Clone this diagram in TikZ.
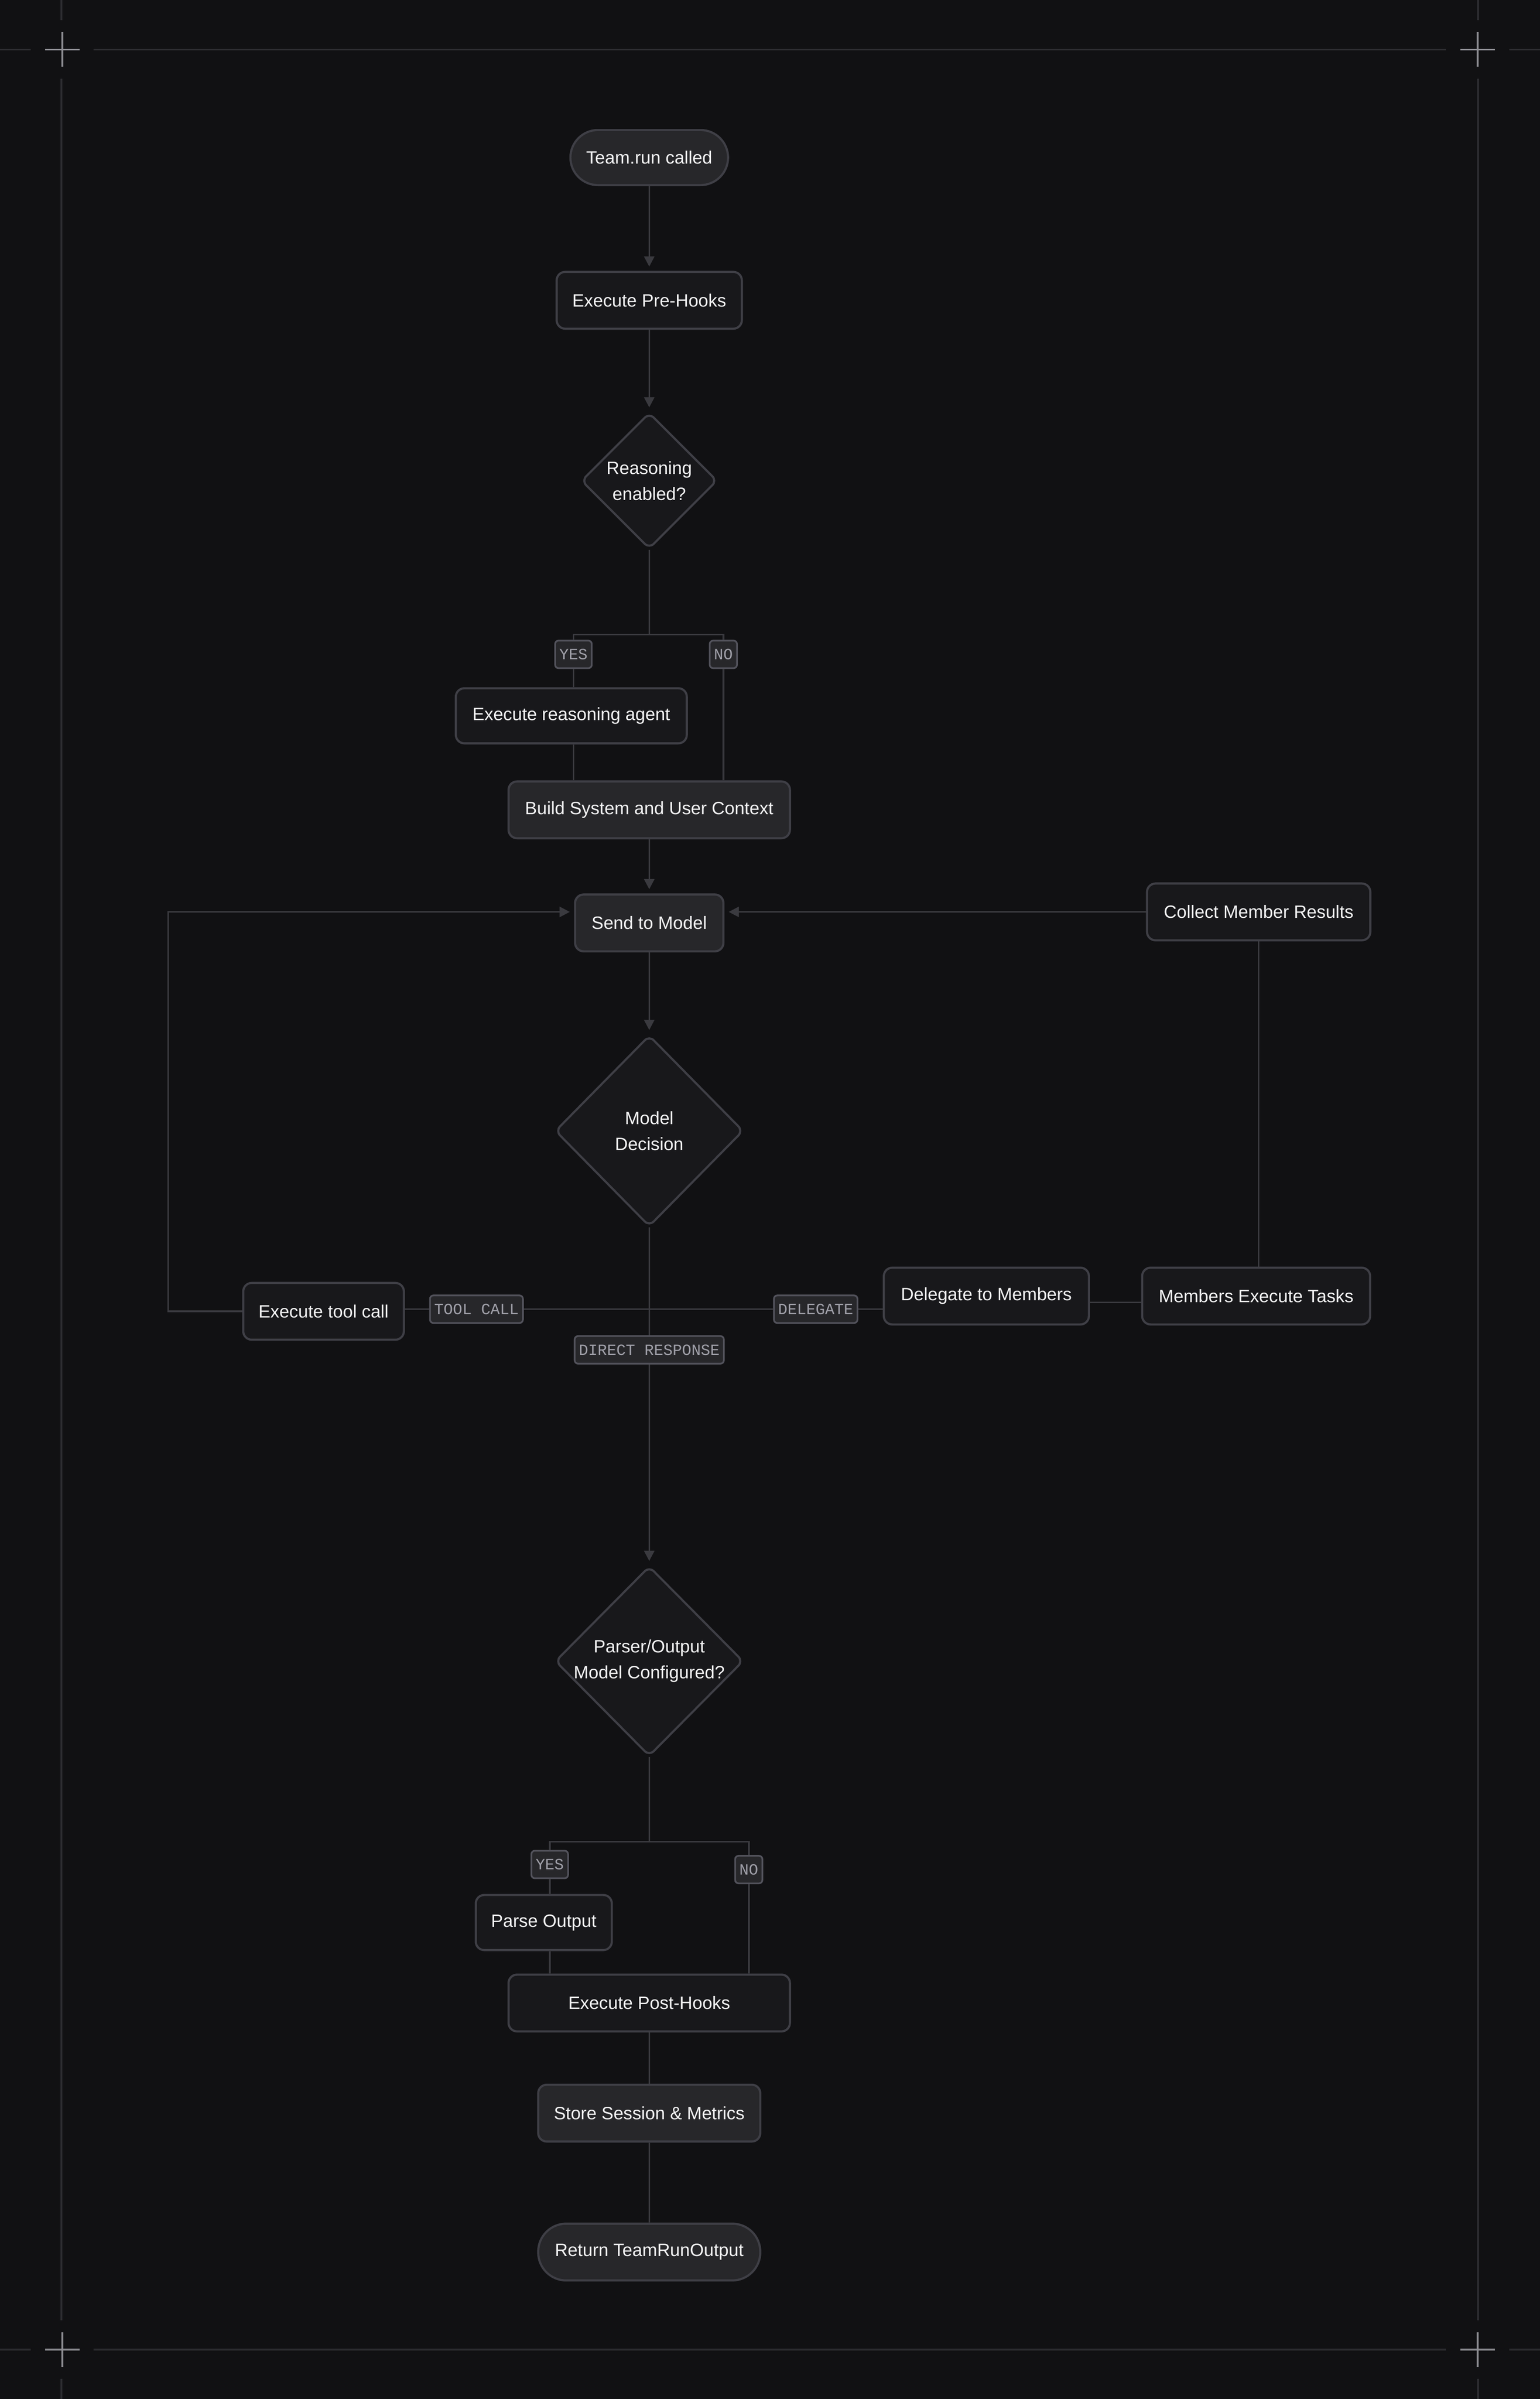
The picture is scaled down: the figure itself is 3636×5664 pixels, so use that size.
\documentclass[tikz,border=0pt]{standalone}
\usepackage{fontspec}
\setmainfont{Liberation Sans}
\setmonofont{Liberation Mono}
\usepackage{tikz}
\usetikzlibrary{shapes.geometric,arrows.meta}
\definecolor{bgcol}{HTML}{111113}
\definecolor{boxcol}{HTML}{18181B}
\definecolor{hicol}{HTML}{27272A}
\definecolor{edgecol}{HTML}{3F3F46}
\definecolor{linecol}{HTML}{3A3A3F}
\definecolor{tagtext}{HTML}{A1A1AA}
\definecolor{tagedge}{HTML}{52525B}
\definecolor{framecol}{HTML}{2C2C30}
\definecolor{crosscol}{HTML}{8E8E93}
\definecolor{textcol}{HTML}{F4F4F5}

\begin{document}
\begin{tikzpicture}[x=0.01cm,y=-0.01cm,>={Triangle[length=0.24cm,width=0.24cm]},
    base node/.style={draw=edgecol,fill=boxcol,text=textcol,line width=0.05cm,
      font=\fontsize{12}{17.4}\selectfont,align=center,minimum height=1.34cm},
    main node/.style={base node,rectangle,rounded corners=0.2cm},
    high node/.style={main node,fill=hicol},
    term node/.style={high node,rounded corners=0.65cm},
    decision node/.style={base node,diamond,inner xsep=-0.5cm,inner ysep=0pt,rounded corners=0.15cm},
    tag node/.style={draw=tagedge,fill=hicol,text=tagtext,line width=0.04cm,rounded corners=0.08cm,
      font=\ttfamily\fontsize{10.5}{12}\selectfont,inner xsep=0.1cm,minimum height=0.65cm},
    link/.style={color=linecol,line width=0.04cm},
    flow/.style={link,->,shorten >=0.1cm}]

  \useasboundingbox (0,0) rectangle (3636,5664);
  \fill[bgcol] (0,0) rectangle (3636,5664);

  \foreach \y in {117,5547}
    \draw[framecol,line width=0.04cm] (0,\y) -- (72,\y) (221,\y) -- (3414,\y) (3564,\y) -- (3636,\y);
  \foreach \x in {145,3490}
    \draw[framecol,line width=0.04cm] (\x,0) -- (\x,48) (\x,186) -- (\x,5478) (\x,5616) -- (\x,5664);
  \foreach \x in {147,3489}
    \foreach \y in {117,5547}
      \draw[crosscol,line width=0.04cm] (\x-41,\y) -- (\x+41,\y) (\x,\y-41) -- (\x,\y+41);

  \node[term node,minimum width=3.72cm,minimum height=1.30cm] (start) at (1533,372) {Team.run called};
  \node[main node,minimum width=4.37cm] (pre) at (1533,709) {Execute Pre-Hooks};
  \node[decision node,minimum width=3.21cm,minimum height=3.21cm] (reason) at (1533,1135) {Reasoning\\enabled?};
  \node[tag node] (yes1) at (1354,1545) {YES};
  \node[tag node] (no1) at (1708,1545) {NO};
  \node[main node,minimum width=5.45cm,minimum height=1.30cm] (agent) at (1349,1690) {Execute reasoning agent};
  \node[high node,minimum width=6.64cm] (build) at (1533,1912) {Build System and User Context};
  \node[high node,minimum width=3.50cm] (send) at (1533,2179) {Send to Model};
  \node[main node,minimum width=5.27cm] (collect) at (2972,2153) {Collect Member Results};
  \node[decision node,minimum width=4.44cm,minimum height=4.51cm] (decision) at (1533,2670) {Model\\Decision};
  \node[main node,minimum width=3.79cm] (tool) at (764,3096) {Execute tool call};
  \node[tag node] (toolcall) at (1125,3091) {TOOL CALL};
  \node[tag node] (delegatetag) at (1926,3091) {DELEGATE};
  \node[main node,minimum width=4.84cm] (delegate) at (2329,3060) {Delegate to Members};
  \node[main node,minimum width=5.38cm] (members) at (2966,3060) {Members Execute Tasks};
  \node[tag node] (direct) at (1533,3187) {DIRECT RESPONSE};
  \node[decision node,minimum width=4.44cm,minimum height=4.48cm] (parser) at (1533,3922) {Parser/Output\\Model Configured?};
  \node[tag node] (yes2) at (1298,4402) {YES};
  \node[tag node] (no2) at (1768,4414) {NO};
  \node[main node,minimum width=3.21cm,minimum height=1.30cm] (parse) at (1284,4539) {Parse Output};
  \node[main node,minimum width=6.64cm] (post) at (1533,4729) {Execute Post-Hooks};
  \node[high node,minimum width=5.24cm] (store) at (1533,4989) {Store Session \& Metrics};
  \node[term node,minimum width=5.24cm,rounded corners=0.66cm] (finish) at (1533,5317) {Return TeamRunOutput};

  \coordinate (fork1) at (1533,1498);
  \coordinate (loop) at (397,2153);
  \coordinate (fork2) at (1533,3091);
  \coordinate (fork3) at (1533,4348);

  \path[flow]
    (start) edge (pre)
    (pre) edge (reason)
    (build) edge (send)
    (send) edge (decision)
    (direct) edge (parser);
  \path[link]
    (post) edge (store)
    (store) edge (finish);

  \draw[link] (reason) -- (fork1) -| (yes1);
  \draw[link] (fork1) -| (no1);
  \draw[link] (yes1) -- (yes1 |- agent.north);
  \draw[link] (yes1 |- agent.south) -- (yes1 |- build.north);
  \draw[link] (no1) -- (no1 |- build.north);

  \draw[flow] (collect) -- (collect -| send.east);
  \draw[flow] (tool) -| (loop) -- (loop -| send.west);
  \draw[link] (members.north -| collect) -- (collect);
  \draw[link] ([yshift=-0.15cm]delegate.east) -- ([yshift=-0.15cm]members.west);

  \draw[link] (decision) -- (fork2) -- (direct);
  \draw[link] (fork2) -- (toolcall) (toolcall) -- (toolcall -| tool.east);
  \draw[link] (fork2) -- (delegatetag) (delegatetag) -- (delegatetag -| delegate.west);

  \draw[link] (parser) -- (fork3) -| (yes2);
  \draw[link] (fork3) -| (no2);
  \draw[link] (yes2) -- (yes2 |- parse.north);
  \draw[link] (yes2 |- parse.south) -- (yes2 |- post.north);
  \draw[link] (no2) -- (no2 |- post.north);
\end{tikzpicture}
\end{document}
